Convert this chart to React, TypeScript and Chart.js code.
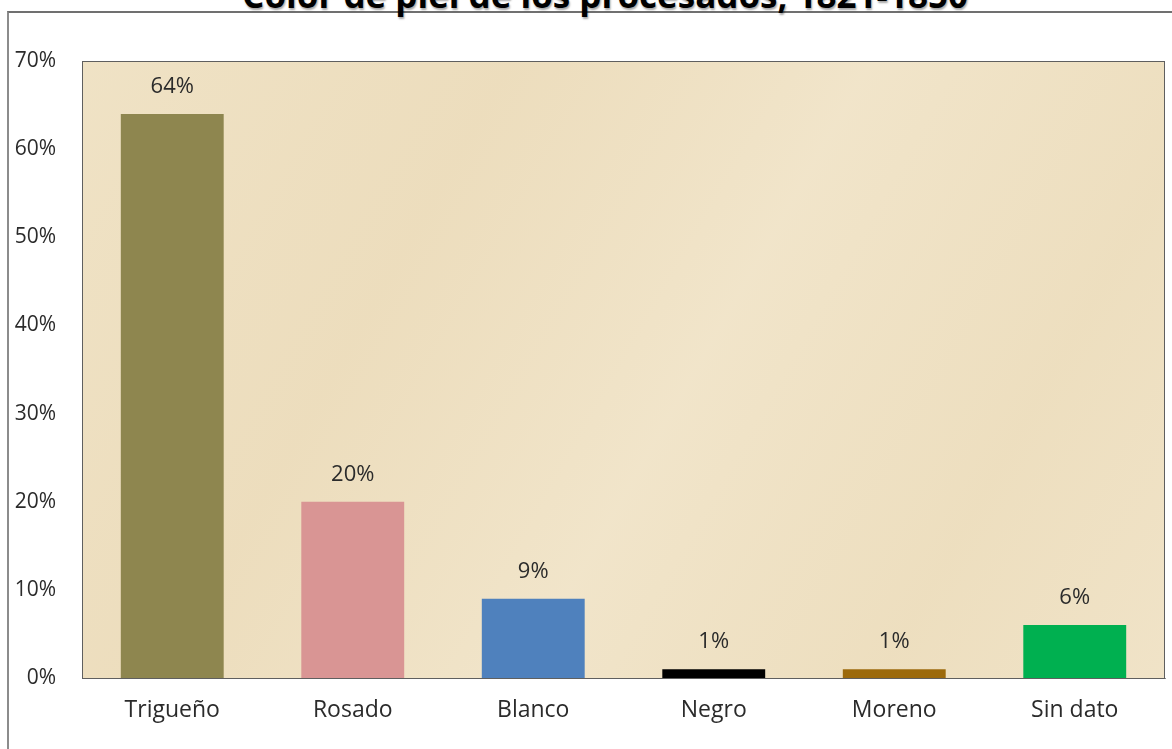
import React, { useEffect, useRef } from "react";
import { Chart, registerables } from "chart.js";

Chart.register(...registerables);

const title = "Color de piel de los procesados, 1821-1850";
const categories = ["Trigueño", "Rosado", "Blanco", "Negro", "Moreno", "Sin dato"];
const values = [64, 20, 9, 1, 1, 6];
const barColors = ["#8e864f", "#d99594", "#4f81bd", "#000000", "#9c6a0c", "#00b050"];
const yMax = 70;
const yStep = 10;

const FONT = "'Open Sans', 'DejaVu Sans', sans-serif";

const plotBg = {
  id: "plotBg",
  beforeDraw(chart: any) {
    const { ctx, chartArea: a } = chart;
    ctx.save();
    ctx.fillStyle = "#efe1c3";
    ctx.fillRect(a.left, a.top, a.right - a.left, a.bottom - a.top);
    const g = ctx.createLinearGradient(a.left, a.top, a.right, a.bottom);
    g.addColorStop(0, "rgba(240,228,200,0.4)");
    g.addColorStop(0.3, "rgba(232,214,178,0.35)");
    g.addColorStop(0.55, "rgba(244,234,212,0.4)");
    g.addColorStop(0.8, "rgba(234,218,184,0.35)");
    g.addColorStop(1, "rgba(242,230,206,0.4)");
    ctx.fillStyle = g;
    ctx.fillRect(a.left, a.top, a.right - a.left, a.bottom - a.top);
    ctx.restore();
  },
  afterDraw(chart: any) {
    const { ctx, chartArea: a } = chart;
    ctx.save();
    ctx.strokeStyle = "#5f5f5f";
    ctx.lineWidth = 1;
    ctx.strokeRect(a.left + 0.5, a.top + 0.5, a.right - a.left - 1, a.bottom - a.top);
    ctx.restore();
  },
};

const dataLabels = {
  id: "dataLabels",
  afterDatasetsDraw(chart: any) {
    const { ctx } = chart;
    const meta = chart.getDatasetMeta(0);
    ctx.save();
    ctx.font = `22px ${FONT}`;
    ctx.fillStyle = "#2b2b2b";
    ctx.textAlign = "center";
    ctx.textBaseline = "middle";
    meta.data.forEach((el: any, i: number) => {
      ctx.fillText(values[i] + "%", el.x, el.y - 27);
    });
    ctx.restore();
  },
};

export default function App() {
  const ref = useRef<HTMLCanvasElement>(null);
  useEffect(() => {
    if (!ref.current) return;
    const chart = new Chart(ref.current, {
      type: "bar",
      data: {
        labels: categories,
        datasets: [
          {
            data: values,
            backgroundColor: barColors,
            borderWidth: 0,
            barPercentage: 0.57,
            categoryPercentage: 1,
          },
        ],
      },
      options: {
        animation: false,
        responsive: true,
        maintainAspectRatio: false,
        layout: { padding: { left: 0, top: 61, right: 7, bottom: 0 } },
        plugins: { legend: { display: false }, tooltip: { enabled: false }, title: { display: false } },
        scales: {
          x: {
            grid: { display: false, drawTicks: false },
            border: { display: true, color: "#8a8a8a", width: 1 },
            ticks: { color: "#2b2b2b", font: { family: FONT, size: 23 }, padding: 19 },
            afterFit: (s: any) => { s.height = 71; },
          },
          y: {
            min: 0,
            max: yMax,
            grid: { display: false, drawTicks: false },
            border: { display: false },
            ticks: {
              stepSize: yStep,
              color: "#2b2b2b",
              font: { family: FONT, size: 21 },
              padding: 26,
              callback: (v: any) => v + "%",
            },
            afterFit: (s: any) => { s.width = 82; },
          },
        },
      },
      plugins: [plotBg, dataLabels],
    });
    return () => chart.destroy();
  }, []);

  return (
    <div style={{ position: "fixed", left: 0, top: 0, width: 1172, height: 749, overflow: "hidden", background: "#ffffff" }}>
      <div
        style={{
          position: "absolute",
          left: 7,
          top: 11,
          width: 1300,
          height: 900,
          borderLeft: "2px solid #8c8c8c",
          borderTop: "2px solid #707070",
        }}
      />
      <div
        style={{
          position: "absolute",
          left: 0,
          top: -23,
          width: 1210,
          textAlign: "center",
          fontFamily: FONT,
          fontWeight: 700,
          fontSize: 35,
          lineHeight: "35px",
          color: "#000",
          textShadow: "1px 2px 2px rgba(0,0,0,0.35)",
          whiteSpace: "nowrap",
        }}
      >
        {title}
      </div>
      <canvas ref={ref} style={{ position: "absolute", left: 0, top: 0, width: 1172, height: 749 }} />
    </div>
  );
}
